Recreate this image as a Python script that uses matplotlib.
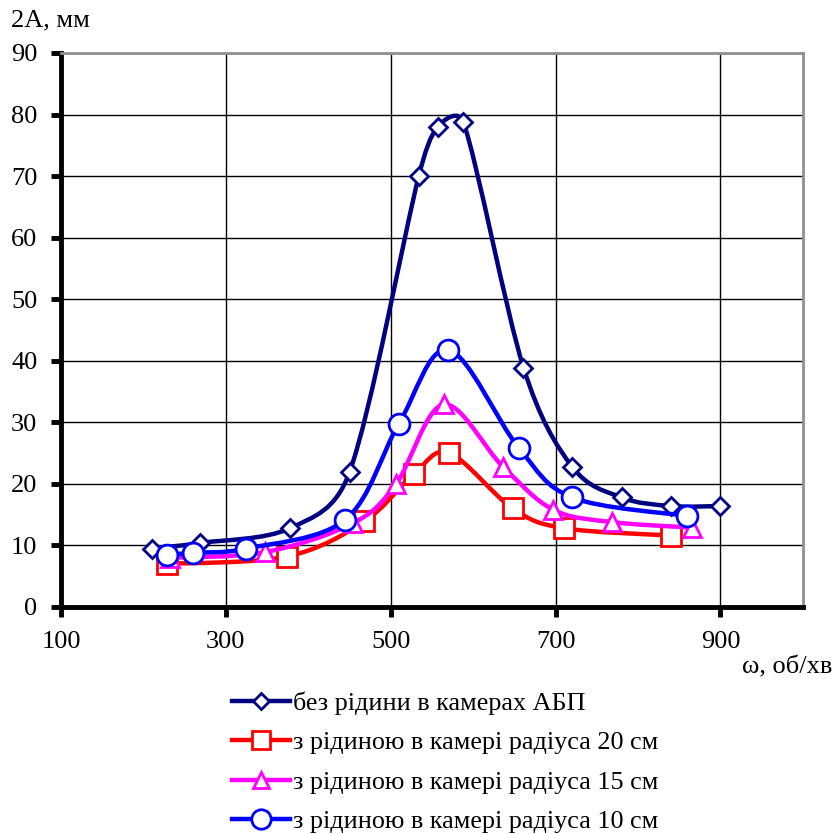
import numpy as np
import matplotlib
matplotlib.use('Agg')
import matplotlib.pyplot as plt
from matplotlib.path import Path
from matplotlib.patches import PathPatch
from matplotlib.lines import Line2D

plt.rcParams['font.family'] = ['Liberation Serif', 'DejaVu Serif']

# --- data ---
x_none = [210, 269, 378, 450, 534, 557, 588, 661, 720, 780, 840, 900]
y_none = [9.5, 10.4, 12.8, 21.9, 70.0, 78.0, 78.8, 38.9, 22.8, 17.8, 16.4, 16.4]

x_r20 = [228, 374, 468, 528, 571, 648, 710, 840]
y_r20 = [7.0, 8.2, 13.9, 21.6, 25.0, 16.0, 12.8, 11.6]

x_r15 = [232, 347, 454, 506, 564, 636, 697, 768, 865]
y_r15 = [8.0, 8.9, 13.6, 19.9, 32.9, 22.8, 15.8, 13.8, 12.9]

x_r10 = [229, 260, 325, 445, 510, 570, 655, 720, 859]
y_r10 = [8.5, 8.8, 9.5, 14.2, 29.8, 41.8, 25.9, 17.8, 14.8]

labels = ['без рідини в камерах АБП',
          'з рідиною в камері радіуса 20 см',
          'з рідиною в камері радіуса 15 см',
          'з рідиною в камері радіуса 10 см']
colors = ['#000080', '#ff0000', '#ff00ff', '#0000ff']
markers = ['D', 's', '^', 'o']
msizes = [9, 14, 13, 15]

x_ticks = [100, 300, 500, 700, 900]
y_ticks = list(range(0, 91, 10))


def smooth_path(ax, xs, ys):
    # Excel-like smoothed line: cubic Bezier built in screen space,
    # control arms limited to half of the segment length
    p = ax.transData.transform(np.column_stack([xs, ys]).astype(float))
    n = len(p)
    verts = [p[0]]
    codes = [Path.MOVETO]
    for i in range(n - 1):
        p0 = p[i - 1] if i > 0 else p[i]
        p3 = p[i + 2] if i + 2 < n else p[i + 1]
        seg = np.linalg.norm(p[i + 1] - p[i])
        t1 = (p[i + 1] - p0) / 6.0
        t2 = (p3 - p[i]) / 6.0
        for t in (t1, t2):
            ln = np.linalg.norm(t)
            if ln > seg / 2 and ln > 0:
                t *= (seg / 2) / ln
        verts += [p[i] + t1, p[i + 1] - t2, p[i + 1]]
        codes += [Path.CURVE4] * 3
    verts = ax.transData.inverted().transform(np.array(verts))
    return Path(verts, codes)


fig = plt.figure(figsize=(8.39, 8.34), dpi=100)
ax = fig.add_axes([0.0727, 0.2722, 0.8843, 0.6643])
ax.set_xlim(100, 1000)
ax.set_ylim(0, 90)

series = [(x_none, y_none), (x_r20, y_r20), (x_r15, y_r15), (x_r10, y_r10)]
handles = []
for k, (xs, ys) in enumerate(series):
    patch = PathPatch(smooth_path(ax, xs, ys), facecolor='none', edgecolor=colors[k],
                      lw=3.2, zorder=3 + 2 * k, capstyle='round', joinstyle='round')
    ax.add_patch(patch)
    ax.plot(xs, ys, ls='none', marker=markers[k], ms=msizes[k], mfc='white',
            mec=colors[k], mew=2, zorder=4 + 2 * k, clip_on=False)
    handles.append(Line2D([], [], color=colors[k], lw=3.2, marker=markers[k],
                          ms=msizes[k] - 1, mfc='white', mec=colors[k], mew=2))

ax.set_xticks(x_ticks)
ax.set_yticks(y_ticks)
ax.grid(True, color='black', lw=1.0)
ax.set_axisbelow(True)

for side in ['left', 'bottom']:
    ax.spines[side].set_linewidth(3.5)
    ax.spines[side].set_color('black')
for side in ['top', 'right']:
    ax.spines[side].set_linewidth(2)
    ax.spines[side].set_color('#909090')

ax.tick_params(axis='both', direction='out', length=7, width=3.5, labelsize=19, pad=10)

fig.text(0.013, 0.975, '2А, мм', fontsize=19, ha='left', va='center')
fig.text(0.884, 0.2, 'ω, об/хв', fontsize=19, ha='left', va='center')

fig.legend(handles, labels, loc='upper left', bbox_to_anchor=(0.277, 0.171),
           frameon=False, fontsize=18.8, handlelength=2.2, handletextpad=0.12,
           labelspacing=0.62, borderpad=0, borderaxespad=0)

fig.savefig('out.png', dpi=100)
